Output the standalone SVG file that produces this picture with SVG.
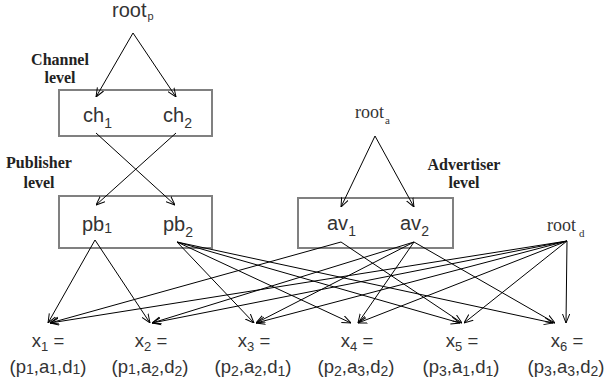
<svg xmlns="http://www.w3.org/2000/svg" width="605" height="388" viewBox="0 0 605 388">
<style>
.box{fill:none;stroke:#808080;stroke-width:2}
.sans{font-family:Arial,"Liberation Sans",Helvetica,sans-serif;fill:#333;font-size:20px}
.serif{font-family:"Times New Roman","Liberation Serif",Times,serif;fill:#333;font-size:18px}
.lbl{font-family:"Times New Roman","Liberation Serif",Times,serif;font-weight:bold;fill:#222;font-size:16px;text-anchor:middle}
.sub{font-size:14px}
.ssub{font-size:11px}
.e{stroke:#000;stroke-width:1;fill:none;marker-end:url(#ah)}
.xl{font-family:Arial,"Liberation Sans",Helvetica,sans-serif;fill:#333;font-size:18.5px;text-anchor:middle}
</style>
<defs>
<marker id="ah" viewBox="0 0 10 10" refX="10" refY="5" markerWidth="9" markerHeight="9" markerUnits="userSpaceOnUse" orient="auto">
<path d="M0,1 L10,5 L0,9" fill="none" stroke="#000" stroke-width="1.1"/>
</marker>
</defs>
<rect width="605" height="388" fill="#fff"/>
<g id="root_p"><text class="sans" x="112" y="17" font-size="18.5">root<tspan class="ssub" dx="1" dy="3">p</tspan></text></g>
<g id="channel_label"><text class="lbl" x="60" y="65">Channel</text><text class="lbl" x="60" y="83">level</text></g>
<g id="channel"><rect class="box" x="59" y="90" width="153" height="46"/>
<text class="sans" x="83" y="122">ch<tspan class="sub" dy="6">1</tspan></text>
<text class="sans" x="163" y="122">ch<tspan class="sub" dy="6">2</tspan></text></g>
<g id="publisher_label"><text class="lbl" x="39" y="168">Publisher</text><text class="lbl" x="39" y="188">level</text></g>
<g id="publisher"><rect class="box" x="59" y="196" width="153" height="52"/>
<text class="sans" x="82" y="231">pb<tspan class="sub" dy="2">1</tspan></text>
<text class="sans" x="163" y="231">pb<tspan class="sub" dy="6">2</tspan></text></g>
<g id="root_a"><text class="serif" x="355" y="118">root<tspan class="ssub" dx="1" dy="6">a</tspan></text></g>
<g id="advertiser_label"><text class="lbl" x="464" y="170">Advertiser</text><text class="lbl" x="464" y="188">level</text></g>
<g id="advertiser"><rect class="box" x="298" y="198" width="155" height="50"/>
<text class="sans" x="327" y="230">av<tspan class="sub" dy="6">1</tspan></text>
<text class="sans" x="400" y="230">av<tspan class="sub" dy="6">2</tspan></text></g>
<g id="root_d"><text class="serif" x="547" y="231">root<tspan class="ssub" dx="3" dy="6">d</tspan></text></g>
<g id="x1"><text class="xl" x="48" y="347">x<tspan font-size="13" dy="4">1</tspan><tspan dy="-4"> =</tspan></text><text class="xl" x="48" y="373">(p<tspan font-size="14" dy="1">1</tspan><tspan dy="-1">,a</tspan><tspan font-size="14" dy="1">1</tspan><tspan dy="-1">,d</tspan><tspan font-size="14" dy="1">1</tspan><tspan dy="-1">)</tspan></text></g>
<g id="x2"><text class="xl" x="151" y="347">x<tspan font-size="13" dy="4">2</tspan><tspan dy="-4"> =</tspan></text><text class="xl" x="150" y="373">(p<tspan font-size="14" dy="1">1</tspan><tspan dy="-1">,a</tspan><tspan font-size="14" dy="3">2</tspan><tspan dy="-3">,d</tspan><tspan font-size="14" dy="3">2</tspan><tspan dy="-3">)</tspan></text></g>
<g id="x3"><text class="xl" x="254" y="347">x<tspan font-size="13" dy="4">3</tspan><tspan dy="-4"> =</tspan></text><text class="xl" x="253" y="373">(p<tspan font-size="14" dy="3">2</tspan><tspan dy="-3">,a</tspan><tspan font-size="14" dy="3">2</tspan><tspan dy="-3">,d</tspan><tspan font-size="14" dy="3">1</tspan><tspan dy="-3">)</tspan></text></g>
<g id="x4"><text class="xl" x="357" y="347">x<tspan font-size="13" dy="4">4</tspan><tspan dy="-4"> =</tspan></text><text class="xl" x="356" y="373">(p<tspan font-size="14" dy="3">2</tspan><tspan dy="-3">,a</tspan><tspan font-size="14" dy="3">3</tspan><tspan dy="-3">,d</tspan><tspan font-size="14" dy="3">2</tspan><tspan dy="-3">)</tspan></text></g>
<g id="x5"><text class="xl" x="462" y="347">x<tspan font-size="13" dy="4">5</tspan><tspan dy="-4"> =</tspan></text><text class="xl" x="461" y="373">(p<tspan font-size="14" dy="3">3</tspan><tspan dy="-3">,a</tspan><tspan font-size="14" dy="3">1</tspan><tspan dy="-3">,d</tspan><tspan font-size="14" dy="3">1</tspan><tspan dy="-3">)</tspan></text></g>
<g id="x6"><text class="xl" x="567" y="347">x<tspan font-size="13" dy="4">6</tspan><tspan dy="-4"> =</tspan></text><text class="xl" x="566" y="373">(p<tspan font-size="14" dy="3">3</tspan><tspan dy="-3">,a</tspan><tspan font-size="14" dy="3">3</tspan><tspan dy="-3">,d</tspan><tspan font-size="14" dy="3">2</tspan><tspan dy="-3">)</tspan></text></g>
<g id="connectors">
<line class="e" x1="133" y1="33" x2="96" y2="97"/>
<line class="e" x1="133" y1="33" x2="176" y2="97"/>
<line class="e" x1="96" y1="133" x2="175" y2="205"/>
<line class="e" x1="176" y1="133" x2="96" y2="205"/>
<line class="e" x1="375" y1="136" x2="341" y2="207"/>
<line class="e" x1="375" y1="136" x2="414" y2="207"/>
<line class="e" x1="95" y1="240" x2="48" y2="323"/>
<line class="e" x1="95" y1="240" x2="150" y2="323"/>
<line class="e" x1="177" y1="242" x2="254" y2="323"/>
<line class="e" x1="177" y1="242" x2="351" y2="323"/>
<line class="e" x1="177" y1="242" x2="460" y2="323"/>
<line class="e" x1="177" y1="242" x2="553" y2="323"/>
<line class="e" x1="341" y1="242" x2="50" y2="323"/>
<line class="e" x1="341" y1="242" x2="462" y2="323"/>
<line class="e" x1="414" y1="242" x2="152" y2="323"/>
<line class="e" x1="414" y1="242" x2="256" y2="323"/>
<line class="e" x1="414" y1="242" x2="358" y2="323"/>
<line class="e" x1="414" y1="242" x2="555" y2="323"/>
<line class="e" x1="567" y1="241" x2="50" y2="323"/>
<line class="e" x1="567" y1="241" x2="152" y2="323"/>
<line class="e" x1="567" y1="241" x2="256" y2="323"/>
<line class="e" x1="567" y1="241" x2="358" y2="323"/>
<line class="e" x1="567" y1="241" x2="464" y2="323"/>
<line class="e" x1="567" y1="241" x2="566" y2="323"/>
</g>
</svg>
